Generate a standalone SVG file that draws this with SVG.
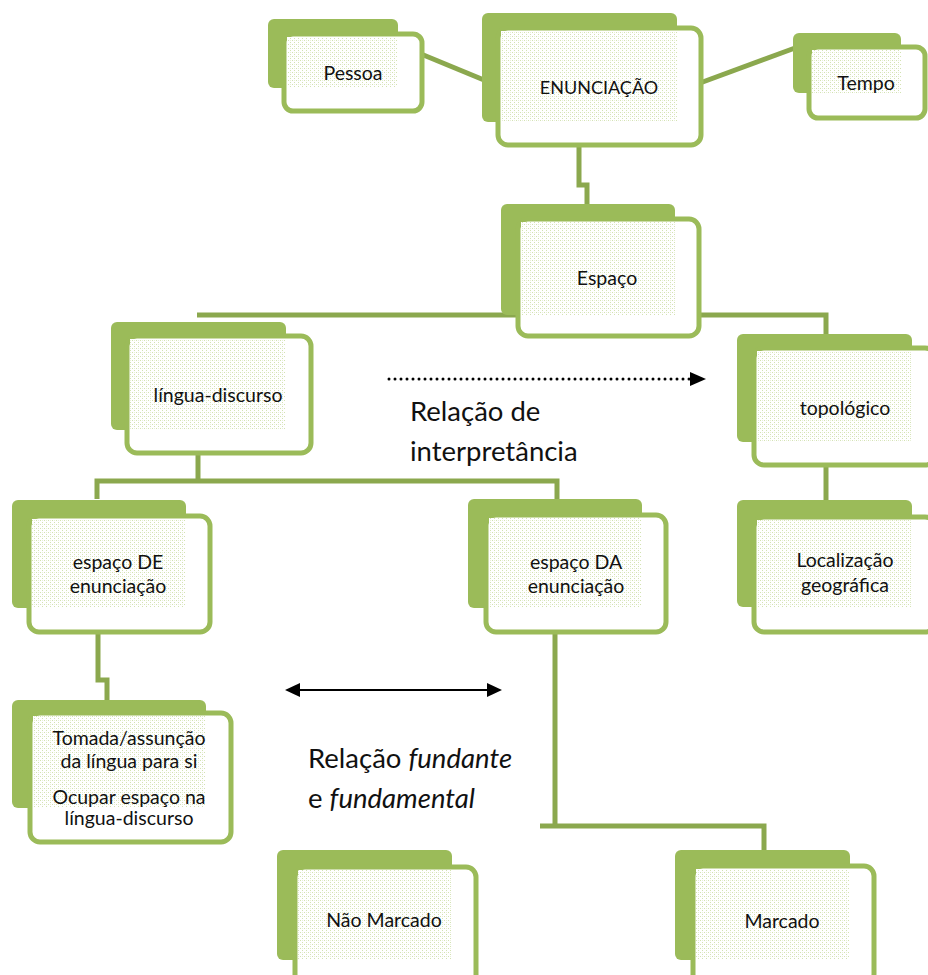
<svg xmlns="http://www.w3.org/2000/svg" width="928" height="975" viewBox="0 0 928 975">
<style>
.bk{fill:#9BBB59}
.fr{fill:#ffffff;stroke:#9BBB59;stroke-width:5}
.tx{fill:url(#dots)}
.lbl{font-family:Lato,"Open Sans",sans-serif;font-size:19.5px;fill:#111;text-anchor:middle}
.big{font-family:Lato,"Open Sans",sans-serif;font-size:27.5px;fill:#111}
.cn{fill:none;stroke:#8BA84E;stroke-width:5}
</style>
<defs>
<pattern id="dots" width="4" height="4" patternUnits="userSpaceOnUse">
<rect width="4" height="4" fill="#ffffff"/>
<rect x="0" y="0" width="1" height="1" fill="#d3e2b2"/>
<rect x="2" y="2" width="1" height="1" fill="#d3e2b2"/>
<rect x="2" y="0" width="1" height="1" fill="#e8efd8"/>
</pattern>
</defs>

<g id="connectors">
<line class="cn" x1="421" y1="54" x2="484" y2="80"/>
<line class="cn" x1="700" y1="83" x2="795" y2="48"/>
<path class="cn" d="M579,145 V185 H587 V206"/>
<path class="cn" d="M197,315 H826 V334"/>
<path class="cn" d="M198,453 V481"/>
<path class="cn" d="M97,499 V481 H557 V500"/>
<path class="cn" d="M98,632 V680 H107 V700"/>
<path class="cn" d="M555,632 V826"/>
<path class="cn" d="M540,826 H764 V850"/>
<path class="cn" d="M826,466 V500"/>
</g>

<g id="rel-interpretancia">
<line x1="389" y1="379" x2="690" y2="379" stroke="#000" stroke-width="3" stroke-linecap="round" stroke-dasharray="0 6"/>
<path d="M690,372 L706,379 L690,386 z" fill="#000"/>
<text class="big" x="410" y="421">Relação de</text>
<text class="big" x="410" y="461">interpretância</text>
</g>

<g id="rel-fundante">
<line x1="299" y1="690" x2="488" y2="690" stroke="#000" stroke-width="2"/>
<path d="M285,690 L300,683 L300,697 z" fill="#000"/>
<path d="M502,690 L487,683 L487,697 z" fill="#000"/>
<text class="big" x="308" y="768">Relação <tspan font-style="italic">fundante</tspan></text>
<text class="big" x="308" y="808">e <tspan font-style="italic">fundamental</tspan></text>
</g>

<g id="pessoa">
<rect class="bk" x="268" y="19" width="130" height="69" rx="6"/>
<rect class="fr" x="284" y="34" width="138" height="77" rx="9"/>
<rect class="tx" x="287" y="37" width="111" height="51"/>
<text class="lbl" x="353" y="80">Pessoa</text>
</g>

<g id="enunciacao">
<rect class="bk" x="482" y="13" width="195" height="109" rx="6"/>
<rect class="fr" x="498" y="28" width="203" height="117" rx="10"/>
<rect class="tx" x="501" y="31" width="176" height="91"/>
<text class="lbl" x="599" y="94" style="font-size:18px">ENUNCIAÇÃO</text>
</g>

<g id="tempo">
<rect class="bk" x="793" y="33" width="108" height="60" rx="6"/>
<rect class="fr" x="809" y="47" width="116" height="71" rx="9"/>
<rect class="tx" x="812" y="50" width="89" height="43"/>
<text class="lbl" x="866" y="90">Tempo</text>
</g>

<g id="espaco">
<rect class="bk" x="501" y="204" width="174" height="111" rx="6"/>
<rect class="fr" x="518" y="219" width="181" height="117" rx="10"/>
<rect class="tx" x="521" y="222" width="154" height="93"/>
<text class="lbl" x="607" y="285">Espaço</text>
</g>

<g id="lingua-discurso">
<rect class="bk" x="111" y="322" width="175" height="108" rx="6"/>
<rect class="fr" x="127" y="336" width="184" height="117" rx="10"/>
<rect class="tx" x="130" y="339" width="156" height="91"/>
<text class="lbl" x="218" y="402">língua-discurso</text>
</g>

<g id="topologico">
<rect class="bk" x="737" y="334" width="175" height="108" rx="6"/>
<rect class="fr" x="754" y="348" width="181" height="117" rx="10"/>
<rect class="tx" x="757" y="351" width="155" height="91"/>
<text class="lbl" x="845" y="415">topológico</text>
</g>

<g id="localizacao">
<rect class="bk" x="737" y="500" width="175" height="107" rx="6"/>
<rect class="fr" x="754" y="517" width="181" height="115" rx="10"/>
<rect class="tx" x="757" y="520" width="155" height="87"/>
<text class="lbl" x="845" y="567">Localização</text>
<text class="lbl" x="845" y="592">geográfica</text>
</g>

<g id="espaco-de">
<rect class="bk" x="12" y="500" width="174" height="108" rx="6"/>
<rect class="fr" x="29" y="516" width="181" height="116" rx="10"/>
<rect class="tx" x="32" y="519" width="154" height="89"/>
<text class="lbl" x="118" y="569">espaço DE</text>
<text class="lbl" x="118" y="593">enunciação</text>
</g>

<g id="espaco-da">
<rect class="bk" x="468" y="499" width="174" height="109" rx="6"/>
<rect class="fr" x="486" y="515" width="180" height="117" rx="10"/>
<rect class="tx" x="489" y="518" width="153" height="90"/>
<text class="lbl" x="576" y="569">espaço DA</text>
<text class="lbl" x="576" y="593">enunciação</text>
</g>

<g id="tomada">
<rect class="bk" x="12" y="700" width="194" height="108" rx="6"/>
<rect class="fr" x="30" y="713" width="201" height="129" rx="10"/>
<rect class="tx" x="33" y="716" width="173" height="92"/>
<text class="lbl" x="129" y="745">Tomada/assunção</text>
<text class="lbl" x="129" y="768">da língua para si</text>
<text class="lbl" x="129" y="804">Ocupar espaço na</text>
<text class="lbl" x="129" y="825">língua-discurso</text>
</g>

<g id="nao-marcado">
<rect class="bk" x="277" y="850" width="175" height="110" rx="6"/>
<rect class="fr" x="295" y="867" width="181" height="118" rx="10"/>
<rect class="tx" x="298" y="870" width="154" height="90"/>
<text class="lbl" x="384" y="927">Não Marcado</text>
</g>

<g id="marcado">
<rect class="bk" x="675" y="850" width="175" height="110" rx="6"/>
<rect class="fr" x="693" y="866" width="181" height="118" rx="10"/>
<rect class="tx" x="696" y="869" width="154" height="91"/>
<text class="lbl" x="782" y="928">Marcado</text>
</g>
</svg>
